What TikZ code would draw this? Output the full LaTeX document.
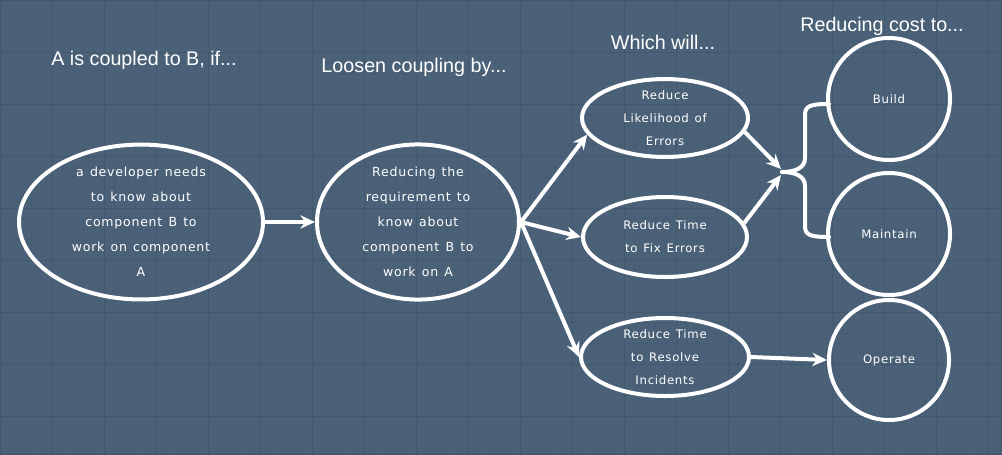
\documentclass[tikz,border=0pt]{standalone}
\usepackage{fontspec}
\setmainfont{Liberation Sans}
\newfontfamily\nodefont[LetterSpace=6,WordSpace=1.3]{DejaVu Sans}
\usetikzlibrary{arrows.meta,shapes.geometric}
\definecolor{bgc}{HTML}{4A6178}
\definecolor{minorc}{HTML}{475D74}
\definecolor{majorc}{HTML}{42586E}
\tikzset{
  bubble/.style={draw=white, line width=3pt, ellipse, inner sep=0pt, text=white, align=center, font=\nodefont\fontsize{9.4}{18.75}\selectfont},
  small/.style={font=\nodefont\fontsize{8.8}{17.25}\selectfont},
  ttl/.style={text=white, font=\fontsize{14.8}{17}\selectfont},
  conn/.style={draw=white, line width=3pt, -{Stealth[length=11pt,width=10pt]}},
  bracepath/.style={draw=white, line width=3pt, line cap=round}
}
\begin{document}
\begin{tikzpicture}[x=0.75pt,y=-0.75pt]
\useasboundingbox (0,0) rectangle (1002,454);
\fill[bgc] (0,0) rectangle (1002,454);
\foreach \i in {0,...,96} {\draw[minorc, line width=0.4pt] (\i*10.4,0) -- (\i*10.4,454);}
\foreach \j in {0,...,44} {\draw[minorc, line width=0.4pt] (0,\j*10.4) -- (1002,\j*10.4);}
\foreach \i in {0,...,19} {\draw[majorc, line width=0.5pt] (\i*52,0) -- (\i*52,454);}
\foreach \j in {0,...,8} {\draw[majorc, line width=0.5pt] (0,\j*52) -- (1002,\j*52);}
\draw[majorc, line width=1.5pt] (0,0) rectangle (1002,454);

% titles
\node[ttl] (t1) at (144,60) {A is coupled to B, if...};
\node[ttl] (t2) at (414,67) {Loosen coupling by...};
\node[ttl] (t3) at (663,42) {Which will...};
\node[ttl] (t4) at (882,26) {Reducing cost to...};

% nodes
\node[bubble, minimum width=183pt, minimum height=112pt] (a) at (141,222)
  {a developer needs\\to know about\\component B to\\work on component\\A};
\node[bubble, minimum width=151.5pt, minimum height=114pt] (b) at (418,222)
  {Reducing the\\requirement to\\know about\\component B to\\work on A};
\node[bubble, small, minimum width=124.5pt, minimum height=57pt] (c) at (665,118)
  {Reduce\\Likelihood of\\Errors};
\node[bubble, small, minimum width=123pt, minimum height=60pt] (d) at (665,237)
  {Reduce Time\\to Fix Errors};
\node[bubble, small, minimum width=126pt, minimum height=58.5pt] (e) at (665,357)
  {Reduce Time\\to Resolve\\Incidents};
\node[bubble, small, circle, minimum size=91.5pt] (build) at (889,99) {Build};
\node[bubble, small, circle, minimum size=91.5pt] (maint) at (889,234) {Maintain};
\node[bubble, small, circle, minimum size=90pt] (op) at (889,360) {Operate};

\coordinate (tip) at (782,172);

% connectors
\draw[conn] (a.east) -- (b.west);
\draw[conn] (b.east) -- (c.192);
\draw[conn] (b.east) -- (d.west);
\draw[conn] (b.east) -- (e.west);
\draw[conn] (c.-10) -- ([shift={(-1,-3)}]tip);
\draw[conn] (d.10) -- ([shift={(-1,3)}]tip);
\draw[conn] (e.east) -- (op.west);

% brace
\draw[bracepath] (tip) .. controls (795,172) and (805,168) .. (805,158)
  -- (805,115) .. controls (805,106) and (810,104) .. (829,104);
\draw[bracepath] (tip) .. controls (795,172) and (805,176) .. (805,186)
  -- (805,226) .. controls (805,235) and (810,237) .. (829,237);
\end{tikzpicture}
\end{document}
